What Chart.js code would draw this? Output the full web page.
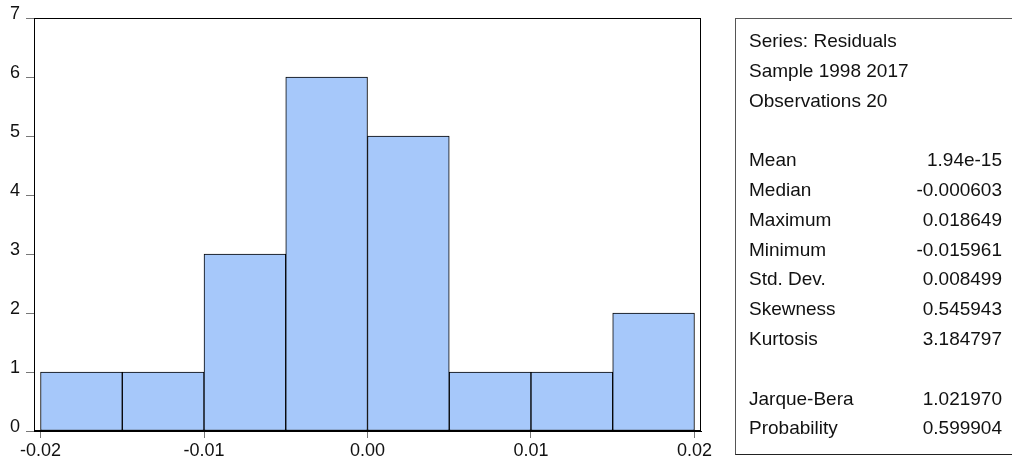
<!DOCTYPE html>
<html>
<head>
<meta charset="utf-8">
<script src="https://cdn.jsdelivr.net/npm/chart.js@4"></script>
<style>
  body { margin: 0; background: #fff; }
  #wrap { position: relative; width: 1012px; height: 465px; overflow: hidden; }
  #stats {
    position: absolute; left: 735px; top: 18px; width: 300px; height: 437px;
    border-left: 1px solid #555; border-top: 1px solid #555; border-bottom: 1px solid #222;
    font-family: "Liberation Sans", Arial, sans-serif; font-size: 19px; color: #111;
    box-sizing: border-box; padding-top: 7px;
  }
  .row { position: relative; height: 29.8px; line-height: 29.8px; }
  .lab { position: absolute; left: 13px; }
  .val { position: absolute; right: 33px; }
</style>
</head>
<body>
<div id="wrap">
  <canvas id="myChart" width="1012" height="465"></canvas>
  <div id="stats"></div>
</div>
<script>
// histogram of residuals
var binStart = [-0.02, -0.015, -0.01, -0.005, 0.0, 0.005, 0.01, 0.015];
var binWidth = 0.005;
var counts = [1, 1, 3, 6, 5, 1, 1, 2];
var xTicks = [-0.02, -0.01, 0.0, 0.01, 0.02];
var yTicks = [0, 1, 2, 3, 4, 5, 6, 7];

var headerLines = ['Series: Residuals', 'Sample 1998 2017', 'Observations 20'];
var statNames = ['Mean', 'Median', 'Maximum', 'Minimum', 'Std. Dev.', 'Skewness', 'Kurtosis'];
var statValues = ['1.94e-15', '-0.000603', '0.018649', '-0.015961', '0.008499', '0.545943', '3.184797'];
var testNames = ['Jarque-Bera', 'Probability'];
var testValues = ['1.021970', '0.599904'];

// stats box on the right
function addRow(label, value) {
    var box = document.getElementById('stats');
    var row = document.createElement('div');
    row.className = 'row';
    if (label !== null) {
        var l = document.createElement('span');
        l.className = 'lab';
        l.textContent = label;
        row.appendChild(l);
    }
    if (value) {
        var v = document.createElement('span');
        v.className = 'val';
        v.textContent = value;
        row.appendChild(v);
    }
    box.appendChild(row);
}
headerLines.forEach(function(t) { addRow(t, ''); });
addRow(null, '');
statNames.forEach(function(t, i) { addRow(t, statValues[i]); });
addRow(null, '');
testNames.forEach(function(t, i) { addRow(t, testValues[i]); });

var points = [];
for (var i = 0; i < counts.length; i++) {
    points.push({ x: binStart[i] + binWidth / 2, y: counts[i] });
}

// full frame round the plot area
var framePlugin = {
    id: 'frame',
    afterDatasetsDraw: function(chart) {
        var a = chart.chartArea;
        var ctx = chart.ctx;
        ctx.save();
        ctx.strokeStyle = '#000';
        ctx.lineWidth = 1;
        ctx.strokeRect(Math.round(a.left) + 0.5, Math.round(a.top) + 0.5,
                       Math.round(a.right - a.left) - 1, Math.round(a.bottom - a.top) - 1);
        ctx.restore();
    }
};

var ctx = document.getElementById('myChart').getContext('2d');
var chartInstance = new Chart(ctx, {
    type: 'bar',
    data: {
        datasets: [{
            data: points,
            backgroundColor: '#a6c8fa',
            borderColor: '#000',
            borderWidth: 1,
            borderSkipped: false,
            barPercentage: 1,
            categoryPercentage: 1
        }]
    },
    plugins: [framePlugin],
    options: {
        responsive: false,
        animation: false,
        layout: { padding: { left: 0, top: 18, right: 311, bottom: 0 } },
        plugins: { legend: { display: false }, tooltip: { enabled: false } },
        scales: {
            x: {
                type: 'linear',
                offset: false,
                min: -0.0204,
                max: 0.0204,
                afterBuildTicks: function(scale) {
                    scale.ticks = xTicks.map(function(v) { return { value: v }; });
                },
                afterFit: function(scale) { scale.height = 34; },
                grid: { offset: false, drawOnChartArea: false, color: '#777', tickLength: 7 },
                border: { color: '#000' },
                ticks: {
                    padding: 2,
                    color: '#111',
                    font: { family: 'Liberation Sans', size: 18 },
                    callback: function(v) { return Number(v).toFixed(2); }
                }
            },
            y: {
                min: 0,
                max: 7,
                afterBuildTicks: function(scale) {
                    scale.ticks = yTicks.map(function(v) { return { value: v }; });
                },
                afterFit: function(scale) { scale.width = 34; },
                grid: { drawOnChartArea: false, color: '#777', tickLength: 8 },
                border: { color: '#000' },
                ticks: {
                    padding: 6,
                    labelOffset: -4,
                    color: '#111',
                    font: { family: 'Liberation Sans', size: 18 }
                }
            }
        }
    }
});
</script>
</body>
</html>
